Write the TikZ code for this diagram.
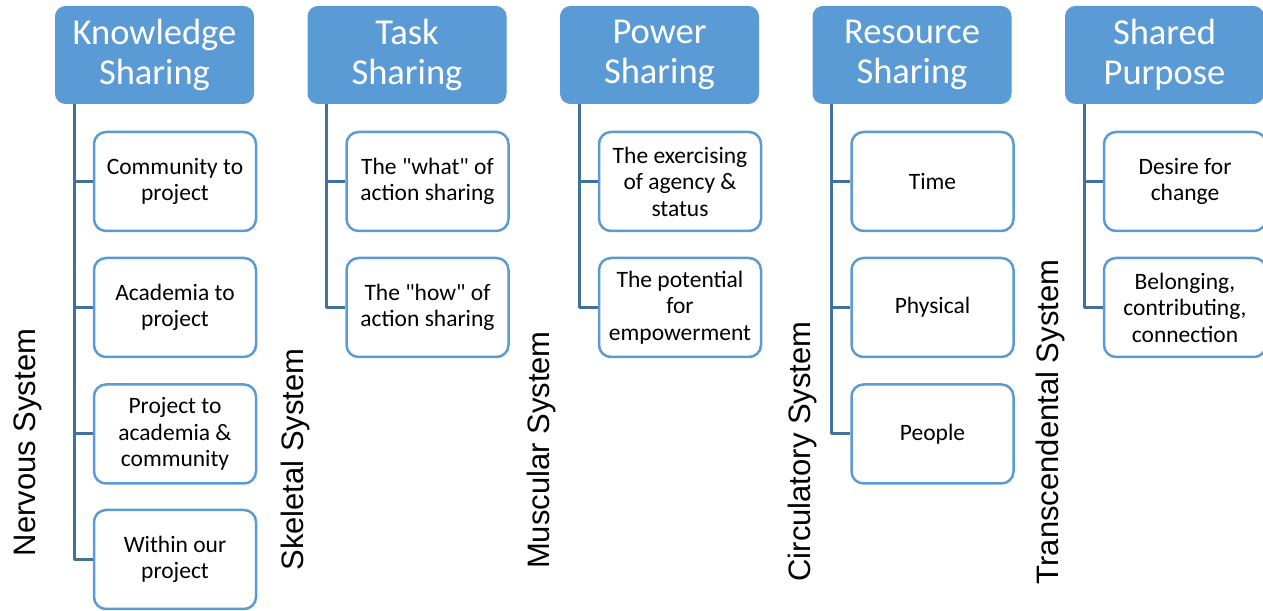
\documentclass[tikz,border=0pt]{standalone}
\usepackage{fontspec}
\newfontfamily\calfont{Carlito}
\newfontfamily\arialfont{Liberation Sans}
\definecolor{headblue}{HTML}{5B9BD5}
\definecolor{linkblue}{HTML}{41719C}
\begin{document}
\begin{tikzpicture}[line join=round,
  head/.style={draw=headblue,fill=headblue,rounded corners=10bp,line width=1bp,
    minimum width=198bp,minimum height=97bp,inner sep=0bp,align=center,
    text=white,font=\calfont\fontsize{36.5bp}{40bp}\selectfont},
  leaf/.style={draw=headblue,fill=white,rounded corners=12bp,line width=2.5bp,
    minimum width=162bp,minimum height=99bp,inner sep=0bp,align=center,
    text=black,font=\calfont\fontsize{23.5bp}{26.5bp}\selectfont},
  system/.style={rotate=90,anchor=base,inner sep=0bp,
    font=\arialfont\fontsize{31bp}{34bp}\selectfont},
  link/.style={draw=linkblue,line width=3bp},
]
\useasboundingbox (0bp,0bp) rectangle (1263bp,611bp);
%%
\node (know_head) at (154.5bp,556bp) [head] {Knowledge\\Sharing};
  \node (know_1) at (175bp,429.5bp) [leaf] {Community to\\project};
  \node (know_2) at (175bp,303.5bp) [leaf] {Academia to\\project};
  \node (know_3) at (175bp,177bp) [leaf] {Project to\\academia \&\\community};
  \node (know_4) at (175bp,51.5bp) [leaf] {Within our\\project};
\node (task_head) at (407bp,556bp) [head] {Task\\Sharing};
  \node (task_1) at (427.5bp,429.5bp) [leaf] {The "what" of\\action sharing};
  \node (task_2) at (427.5bp,303.5bp) [leaf] {The "how" of\\action sharing};
\node (power_head) at (659.5bp,556bp) [head] {Power\\Sharing};
  \node (power_1) at (680bp,429.5bp) [leaf] {The exercising\\of agency \&\\status};
  \node (power_2) at (680bp,303.5bp) [leaf] {The potential\\for\\empowerment};
\node (res_head) at (912bp,556bp) [head] {Resource\\Sharing};
  \node (res_1) at (932.5bp,429.5bp) [leaf] {Time};
  \node (res_2) at (932.5bp,303.5bp) [leaf] {Physical};
  \node (res_3) at (932.5bp,177bp) [leaf] {People};
\node (purp_head) at (1164.5bp,556bp) [head] {Shared\\Purpose};
  \node (purp_1) at (1185bp,429.5bp) [leaf] {Desire for\\change};
  \node (purp_2) at (1185bp,303.5bp) [leaf] {Belonging,\\contributing,\\connection};
%
\node (sys_0) at (35bp,168.5bp) [system] {Nervous System};
\node (sys_1) at (303bp,151.5bp) [system] {Skeletal System};
\node (sys_2) at (549bp,161bp) [system] {Muscular System};
\node (sys_3) at (810bp,159.5bp) [system] {Circulatory System};
\node (sys_4) at (1058bp,189bp) [system] {Transcendental System};
%
\foreach \n in {1,2,3,4}
  \draw [link] ([xshift=19bp]know_head.south west) |- (know_\n.west);
\foreach \n in {1,2}
  \draw [link] ([xshift=19bp]task_head.south west) |- (task_\n.west);
\foreach \n in {1,2}
  \draw [link] ([xshift=19bp]power_head.south west) |- (power_\n.west);
\foreach \n in {1,2,3}
  \draw [link] ([xshift=19bp]res_head.south west) |- (res_\n.west);
\foreach \n in {1,2}
  \draw [link] ([xshift=19bp]purp_head.south west) |- (purp_\n.west);
%
\end{tikzpicture}
\end{document}
